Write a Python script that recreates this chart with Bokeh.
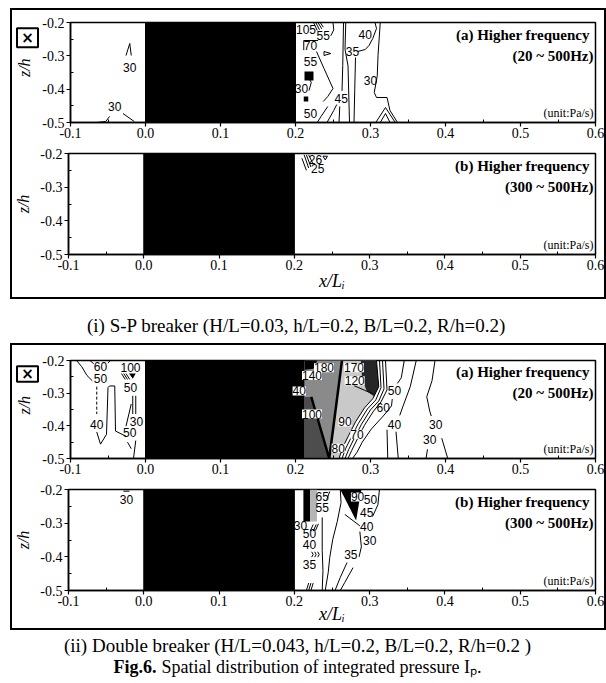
from math import pi
from bokeh.plotting import figure
from bokeh.models import Range1d, FixedTicker, Label, LabelSet, ColumnDataSource
from bokeh.layouts import column, row
from bokeh.embed import file_html
from bokeh.resources import INLINE
from bokeh.core.properties import value

# ---------------- axes / common data ----------------
x_limits = [-0.1, 0.6]
z_limits = [-0.5, -0.2]
x_ticks = [-0.1, 0.0, 0.1, 0.2, 0.3, 0.4, 0.5, 0.6]
x_tick_labels = ["-0.1", "0.0", "0.1", "0.2", "0.3", "0.4", "0.5", "0.6"]
x_minor_ticks = [-0.05, 0.05, 0.15, 0.25, 0.35, 0.45, 0.55]
z_ticks = [-0.5, -0.4, -0.3, -0.2]
z_tick_labels = ["-0.5", "-0.4", "-0.3", "-0.2"]
z_minor_ticks = [-0.45, -0.35, -0.25]
structure_x = [0.0, 0.2]          # breakwater body (black block)
x_label = "x/Lᵢ"
z_label = "z/h"

title_a = "(a)  Higher frequency"
title_b = "(b)  Higher frequency"
band_a = "(20 ~ 500Hz)"
band_b = "(300 ~ 500Hz)"
unit_text = "(unit:Pa/s)"
caption_i = "(i) S-P breaker (H/L=0.03, h/L=0.2, B/L=0.2, R/h=0.2)"
caption_ii = "(ii) Double breaker (H/L=0.043, h/L=0.2, B/L=0.2, R/h=0.2 )"
fig_prefix = "Fig.6."
fig_caption = "Spatial distribution of integrated pressure Iₚ."

# ---------------- (i) S-P breaker, (a) 20~500Hz ----------------
sp_a_lines_x = [
    [-0.026, -0.021, -0.019],
    [-0.065, -0.053, -0.048],
    [-0.030, -0.015],
    [0.224, 0.229], [0.227, 0.232], [0.230, 0.235], [0.233, 0.237],
    [0.230, 0.211, 0.211],
    [0.250, 0.251, 0.247],
    [0.238, 0.247, 0.238, 0.238],
    [0.217, 0.221, 0.218],
    [0.228, 0.238, 0.250, 0.243, 0.237],
    [0.229, 0.234, 0.243],
    [0.242, 0.251, 0.255],
    [0.264, 0.263, 0.262],
    [0.259, 0.258],
    [0.267, 0.266, 0.270, 0.272],
    [0.280, 0.279, 0.278],
    [0.283, 0.293, 0.298, 0.303, 0.308, 0.306],
    [0.313, 0.310, 0.309, 0.305, 0.308, 0.322, 0.326, 0.336],
    [0.307, 0.320, 0.333],
    [0.313, 0.320, 0.326],
]
sp_a_lines_z = [
    [-0.299, -0.263, -0.299],
    [-0.5, -0.497, -0.482],
    [-0.473, -0.497],
    [-0.2, -0.224], [-0.2, -0.222], [-0.2, -0.219], [-0.2, -0.214],
    [-0.254, -0.254, -0.283],
    [-0.2, -0.222, -0.240],
    [-0.287, -0.293, -0.299, -0.287],
    [-0.362, -0.380, -0.404],
    [-0.287, -0.338, -0.398, -0.422, -0.437],
    [-0.5, -0.482, -0.452],
    [-0.5, -0.464, -0.446],
    [-0.2, -0.329, -0.405],
    [-0.452, -0.5],
    [-0.2, -0.28, -0.33, -0.5],
    [-0.305, -0.4, -0.5],
    [-0.287, -0.281, -0.269, -0.248, -0.218, -0.2],
    [-0.2, -0.3, -0.36, -0.41, -0.425, -0.425, -0.464, -0.5],
    [-0.5, -0.455, -0.5],
    [-0.5, -0.473, -0.5],
]
sp_a_label_x = [-0.021, -0.041, 0.214, 0.237, 0.220, 0.220, 0.208, 0.220, 0.261, 0.276, 0.293, 0.300]
sp_a_label_z = [-0.335, -0.452, -0.222, -0.239, -0.270, -0.317, -0.398, -0.473, -0.428, -0.287, -0.236, -0.374]
sp_a_label_t = ["30", "30", "105", "55", "70", "55", "30", "50", "45", "35", "40", "30"]
sp_a_fill_x = [[0.212, 0.224, 0.224, 0.212], [0.211, 0.217, 0.217, 0.211]]
sp_a_fill_z = [[-0.347, -0.347, -0.374, -0.374], [-0.422, -0.422, -0.437, -0.437]]
sp_a_fill_c = ["black", "black"]

# ---------------- (i) S-P breaker, (b) 300~500Hz ----------------
sp_b_lines_x = [[0.213, 0.219], [0.216, 0.222], [0.219, 0.225], [0.210, 0.216],
                [0.238, 0.244, 0.241, 0.238]]
sp_b_lines_z = [[-0.204, -0.243], [-0.204, -0.240], [-0.204, -0.232], [-0.214, -0.250],
                [-0.208, -0.208, -0.219, -0.208]]
sp_b_label_x = [0.228, 0.231]
sp_b_label_z = [-0.219, -0.246]
sp_b_label_t = ["26", "25"]

# ---------------- (ii) Double breaker, (a) 20~500Hz ----------------
db_a_fill_x = [
    [0.212, 0.308, 0.311, 0.303, 0.292, 0.280, 0.271, 0.263, 0.258, 0.212],
    [0.212, 0.221, 0.245, 0.212],
    [0.212, 0.229, 0.262, 0.245, 0.221, 0.212],
    [0.287, 0.308, 0.311, 0.305, 0.295, 0.289],
    [0.200, 0.212, 0.212, 0.200],
    [0.212, 0.229, 0.224, 0.212],
    [-0.022, -0.013, -0.017],
]
db_a_fill_z = [
    [-0.2, -0.2, -0.280, -0.317, -0.345, -0.388, -0.429, -0.466, -0.5, -0.5],
    [-0.311, -0.311, -0.5, -0.5],
    [-0.225, -0.2, -0.2, -0.5, -0.311, -0.311],
    [-0.2, -0.2, -0.280, -0.310, -0.293, -0.259],
    [-0.2, -0.2, -0.5, -0.5],
    [-0.2, -0.2, -0.225, -0.228],
    [-0.240, -0.240, -0.256],
]
db_a_fill_c = ["#c9c9c9", "#4d4d4d", "#8a8a8a", "#262626", "black", "black", "black"]
db_a_thick_x = [[0.262, 0.245], [0.221, 0.245]]
db_a_thick_z = [[-0.2, -0.5], [-0.311, -0.5]]
db_a_lines_x = [
    [0.278, 0.303],
    [0.308, 0.311, 0.303, 0.292, 0.280, 0.271, 0.263, 0.258],
    [0.312, 0.314, 0.307, 0.296, 0.284, 0.275, 0.267, 0.262],
    [0.316, 0.318, 0.311, 0.300, 0.288, 0.279, 0.271, 0.266],
    [0.320, 0.322, 0.314, 0.304, 0.292, 0.283, 0.275, 0.270],
    [0.329, 0.328, 0.317, 0.301, 0.289, 0.282, 0.276],
    [0.345, 0.341, 0.336],
    [0.361, 0.353, 0.343, 0.339],
    [0.334, 0.337],
    [0.322, 0.323],
    [0.386, 0.382, 0.375, 0.379, 0.381],
    [0.395, 0.403],
    [0.376, 0.374],
    [-0.092, -0.085, -0.078, -0.071],
    [-0.074, -0.069], [-0.047, -0.050],
    [-0.065, -0.060, -0.052, -0.050, -0.048, -0.041, -0.040, -0.026],
    [-0.032, -0.027], [-0.029, -0.024], [-0.026, -0.021],
    [-0.017, -0.017], [-0.013, -0.013],
    [-0.026, -0.019],
    [-0.024, -0.019], [-0.013, -0.016],
]
db_a_lines_z = [
    [-0.277, -0.302],
    [-0.2, -0.280, -0.317, -0.345, -0.388, -0.429, -0.466, -0.5],
    [-0.2, -0.283, -0.321, -0.348, -0.392, -0.432, -0.469, -0.5],
    [-0.2, -0.287, -0.324, -0.351, -0.395, -0.435, -0.472, -0.5],
    [-0.2, -0.290, -0.327, -0.355, -0.398, -0.438, -0.475, -0.5],
    [-0.318, -0.339, -0.370, -0.410, -0.450, -0.481, -0.5],
    [-0.2, -0.253, -0.270],
    [-0.2, -0.280, -0.342, -0.368],
    [-0.418, -0.5],
    [-0.412, -0.5],
    [-0.2, -0.262, -0.311, -0.355, -0.370],
    [-0.438, -0.5],
    [-0.472, -0.5],
    [-0.2, -0.219, -0.246, -0.262],
    [-0.2, -0.210], [-0.2, -0.208],
    [-0.419, -0.456, -0.426, -0.283, -0.278, -0.278, -0.416, -0.432],
    [-0.240, -0.258], [-0.240, -0.258], [-0.240, -0.258],
    [-0.308, -0.364], [-0.308, -0.364],
    [-0.401, -0.333],
    [-0.450, -0.470], [-0.445, -0.5],
]
db_a_dash_x = [[-0.065, -0.065]]
db_a_dash_z = [[-0.280, -0.364]]
db_a_label_x = [-0.060, -0.060, -0.065, -0.020, -0.020, -0.012, -0.021, 0.317, 0.332, 0.332, 0.387, 0.379]
db_a_label_z = [-0.219, -0.256, -0.395, -0.222, -0.282, -0.388, -0.419, -0.345, -0.293, -0.395, -0.395, -0.441]
db_a_label_t = ["60", "50", "40", "100", "50", "30", "50", "60", "50", "40", "30", "30"]
db_a_box_x = [0.238, 0.278, 0.222, 0.205, 0.222, 0.279, 0.266, 0.282, 0.257]
db_a_box_z = [-0.222, -0.222, -0.246, -0.293, -0.364, -0.262, -0.388, -0.426, -0.469]
db_a_box_t = ["180", "170", "140", "40", "100", "120", "90", "70", "80"]

# ---------------- (ii) Double breaker, (b) 300~500Hz ----------------
db_b_fill_x = [[0.212, 0.221, 0.221, 0.212], [0.221, 0.230, 0.230, 0.221], [0.261, 0.289, 0.282]]
db_b_fill_z = [[-0.2, -0.2, -0.295, -0.295], [-0.2, -0.2, -0.295, -0.295], [-0.2, -0.2, -0.292]]
db_b_fill_c = ["black", "#b5b5b5", "black"]
db_b_lines_x = [
    [0.261, 0.262, 0.257, 0.251, 0.247, 0.245, 0.241],
    [0.267, 0.287],
    [0.287, 0.289, 0.286],
    [0.270, 0.261, 0.254],
    [0.278, 0.267, 0.261],
    [0.313, 0.311, 0.304],
    [0.237, 0.237, 0.238, 0.237],
    [0.247, 0.243],
    [0.221, 0.225], [0.225, 0.229], [0.228, 0.232],
    [0.223, 0.225, 0.223], [0.227, 0.229, 0.227], [0.231, 0.233, 0.231],
    [0.216, 0.219], [0.219, 0.222], [0.222, 0.225],
    [-0.027, -0.019],
]
db_b_lines_z = [
    [-0.2, -0.239, -0.295, -0.348, -0.402, -0.446, -0.5],
    [-0.274, -0.308],
    [-0.325, -0.370, -0.400],
    [-0.417, -0.461, -0.5],
    [-0.432, -0.476, -0.5],
    [-0.2, -0.245, -0.280],
    [-0.283, -0.381, -0.441, -0.5],
    [-0.206, -0.230],
    [-0.324, -0.304], [-0.324, -0.304], [-0.322, -0.302],
    [-0.385, -0.393, -0.401], [-0.385, -0.393, -0.401], [-0.385, -0.393, -0.401],
    [-0.5, -0.478], [-0.5, -0.478], [-0.5, -0.478],
    [-0.205, -0.205],
]
db_b_label_x = [0.237, 0.237, 0.208, 0.220, 0.220, 0.220, 0.301, 0.296, 0.296, 0.300, 0.275, -0.023]
db_b_label_z = [-0.222, -0.253, -0.306, -0.330, -0.363, -0.423, -0.230, -0.268, -0.310, -0.351, -0.393, -0.230]
db_b_label_t = ["65", "55", "30", "50", "40", "35", "50", "45", "40", "30", "35", "30"]
db_b_box_x = [0.284]
db_b_box_z = [-0.222]
db_b_box_t = ["90"]

# ---------------- layout constants ----------------
BOX_INNER_W = 592       # width inside a framed box
STRIP_W = 27            # left strip holding the boxed "x" mark and z/h label
CAP_W = 596
SERIF = "Liberation Serif"


def style_axes(p, with_zlabel, xlabel_standoff):
    xa = p.xaxis[0]
    ya = p.yaxis[0]
    xa.ticker = FixedTicker(ticks=x_ticks, minor_ticks=x_minor_ticks)
    ya.ticker = FixedTicker(ticks=z_ticks, minor_ticks=z_minor_ticks)
    xa.major_label_overrides = {t: s for t, s in zip(x_ticks, x_tick_labels)}
    ya.major_label_overrides = {t: s for t, s in zip(z_ticks, z_tick_labels)}
    for ax in (xa, ya):
        ax.major_tick_out = 4
        ax.major_tick_in = 0
        ax.minor_tick_out = 0
        ax.minor_tick_in = 3
        ax.axis_line_color = "black"
        ax.axis_line_width = 1.5
        ax.major_tick_line_color = "black"
        ax.major_tick_line_width = 1.2
        ax.minor_tick_line_color = "black"
        ax.major_label_text_font = SERIF
        ax.major_label_text_font_size = "14px"
        ax.major_label_text_color = "black"
        ax.axis_label_text_font = SERIF
        ax.axis_label_text_font_style = "italic"
        ax.axis_label_text_color = "black"
    xa.major_label_standoff = 1
    ya.major_label_standoff = 2
    if with_zlabel:
        ya.axis_label = z_label
        ya.axis_label_text_font_size = "16px"
        ya.axis_label_standoff = 5
    if xlabel_standoff is not None:
        xa.axis_label = x_label
        xa.axis_label_text_font_size = "18px"
        xa.axis_label_standoff = xlabel_standoff


def make_panel(width, height, b_left, b_top, b_bottom, lines_x, lines_z, lab_x, lab_z, lab_t,
               title, band, with_zlabel, fills=None, thick=None, dashed=None, boxed=None,
               xlabel_standoff=None):
    p = figure(width=width, height=height, title=None,
               x_range=Range1d(x_limits[0], x_limits[1]),
               y_range=Range1d(z_limits[0], z_limits[1]),
               output_backend="svg", toolbar_location=None,
               min_border_left=b_left, min_border_right=9,
               min_border_top=b_top, min_border_bottom=b_bottom)
    p.background_fill_color = "white"
    p.border_fill_color = "white"
    p.outline_line_color = "black"
    p.outline_line_width = 1.5
    p.xgrid.visible = False
    p.ygrid.visible = False
    style_axes(p, with_zlabel, xlabel_standoff)

    if fills is not None:
        fx, fz, fc = fills
        p.patches(xs=fx, ys=fz, fill_color=fc, line_color=None)
    p.quad(left=[structure_x[0]], right=[structure_x[1]],
           bottom=[z_limits[0]], top=[z_limits[1]],
           fill_color="black", line_color="black")
    p.multi_line(xs=lines_x, ys=lines_z, line_color="black", line_width=1)
    if thick is not None:
        p.multi_line(xs=thick[0], ys=thick[1], line_color="black", line_width=2.5)
    if dashed is not None:
        p.multi_line(xs=dashed[0], ys=dashed[1], line_color="black",
                     line_width=1, line_dash="3 2")

    src = ColumnDataSource(dict(x=lab_x, y=lab_z, t=lab_t))
    p.add_layout(LabelSet(x="x", y="y", text="t", source=src,
                          text_font=value("Liberation Sans"),
                          text_font_size=value("12px"),
                          text_align=value("center"),
                          text_baseline=value("middle"),
                          text_color="black"))
    if boxed is not None:
        bsrc = ColumnDataSource(dict(x=boxed[0], y=boxed[1], t=boxed[2]))
        p.add_layout(LabelSet(x="x", y="y", text="t", source=bsrc,
                              text_font=value("Liberation Sans"),
                              text_font_size=value("12px"),
                              text_align=value("center"),
                              text_baseline=value("middle"),
                              text_color="black",
                              background_fill_color="white",
                              background_fill_alpha=1.0))

    p.add_layout(Label(x=x_limits[1], y=-0.236, x_offset=-2, text=title,
                       text_align="right", text_baseline="middle",
                       text_font=SERIF, text_font_style="bold",
                       text_font_size="15px", text_color="black"))
    p.add_layout(Label(x=x_limits[1], y=-0.300, x_offset=-2, text=band,
                       text_align="right", text_baseline="middle",
                       text_font=SERIF, text_font_style="bold",
                       text_font_size="15px", text_color="black"))
    p.add_layout(Label(x=x_limits[1], y=-0.472, x_offset=-2, text=unit_text,
                       text_align="right", text_baseline="middle",
                       text_font=SERIF, text_font_size="12px", text_color="black"))
    return p


def make_strip(height, mark_from_top, mark_h, zlabel_from_top):
    """Narrow strip left of an (a) panel: boxed 'x' mark and the z/h axis title."""
    s = figure(width=STRIP_W, height=height, title=None,
               x_range=Range1d(0, STRIP_W), y_range=Range1d(0, height),
               x_axis_location=None, y_axis_location=None,
               output_backend="svg", toolbar_location=None, min_border=0)
    s.outline_line_color = None
    s.background_fill_color = "white"
    s.border_fill_color = "white"
    s.grid.visible = False
    s.rect(x=[15], y=[height - mark_from_top], width=21, height=mark_h,
           fill_color="white", line_color="black", line_width=2)
    s.text(x=[15], y=[height - mark_from_top], text=["×"],
           text_font=value("DejaVu Sans"), text_font_style="bold",
           text_font_size="15px", text_align="center", text_baseline="middle",
           text_color="black")
    s.text(x=[12], y=[height - zlabel_from_top], text=[z_label], angle=pi / 2,
           text_font=value(SERIF), text_font_style="italic",
           text_font_size="16px", text_align="center", text_baseline="middle",
           text_color="black")
    return s


def make_caption(height):
    c = figure(width=CAP_W, height=height, title=None,
               x_range=Range1d(0, CAP_W), y_range=Range1d(height, 0),
               x_axis_location=None, y_axis_location=None,
               output_backend="svg", toolbar_location=None, min_border=0)
    c.outline_line_color = None
    c.background_fill_color = "white"
    c.border_fill_color = "white"
    c.grid.visible = False
    return c


A_W = BOX_INNER_W - STRIP_W
A1 = make_panel(A_W, 137, 29, 12, 25, sp_a_lines_x, sp_a_lines_z,
                sp_a_label_x, sp_a_label_z, sp_a_label_t, title_a, band_a, False,
                fills=(sp_a_fill_x, sp_a_fill_z, sp_a_fill_c))
S1 = make_strip(137, 21, 26, 62)
B1 = make_panel(BOX_INNER_W, 150, 56, 6, 43, sp_b_lines_x, sp_b_lines_z,
                sp_b_label_x, sp_b_label_z, sp_b_label_t, title_b, band_b, True,
                xlabel_standoff=-2)
A2 = make_panel(A_W, 138, 29, 15, 25, db_a_lines_x, db_a_lines_z,
                db_a_label_x, db_a_label_z, db_a_label_t, title_a, band_a, False,
                fills=(db_a_fill_x, db_a_fill_z, db_a_fill_c),
                thick=(db_a_thick_x, db_a_thick_z), dashed=(db_a_dash_x, db_a_dash_z),
                boxed=(db_a_box_x, db_a_box_z, db_a_box_t))
S2 = make_strip(138, 19, 22, 63)
B2 = make_panel(BOX_INNER_W, 145, 56, 6, 38, db_b_lines_x, db_b_lines_z,
                db_b_label_x, db_b_label_z, db_b_label_t, title_b, band_b, True,
                fills=(db_b_fill_x, db_b_fill_z, db_b_fill_c),
                boxed=(db_b_box_x, db_b_box_z, db_b_box_t), xlabel_standoff=-5)

cap1 = make_caption(44)
cap1.add_layout(Label(x=286, y=26, text=caption_i, text_align="center",
                      text_baseline="middle", text_font=SERIF,
                      text_font_size="19px", text_color="black"))
cap2 = make_caption(52)
cap2.add_layout(Label(x=287, y=15, text=caption_ii, text_align="center",
                      text_baseline="middle", text_font=SERIF,
                      text_font_size="19px", text_color="black"))
cap2.add_layout(Label(x=146, y=36, text=fig_prefix, text_align="right",
                      text_baseline="middle", text_font=SERIF,
                      text_font_style="bold", text_font_size="18px", text_color="black"))
cap2.add_layout(Label(x=151, y=36, text=fig_caption, text_align="left",
                      text_baseline="middle", text_font=SERIF,
                      text_font_size="18px", text_color="black"))

box1 = column(row(S1, A1, spacing=0), B1, spacing=0, styles={"border": "2px solid black"})
box2 = column(row(S2, A2, spacing=0), B2, spacing=0, styles={"border": "2px solid black"})
page = column(box1, cap1, box2, cap2, spacing=0, margin=(8, 0, 0, 10))

open("out.html", "w").write(file_html(page, INLINE, title="Fig.6 Spatial distribution of integrated pressure"))
